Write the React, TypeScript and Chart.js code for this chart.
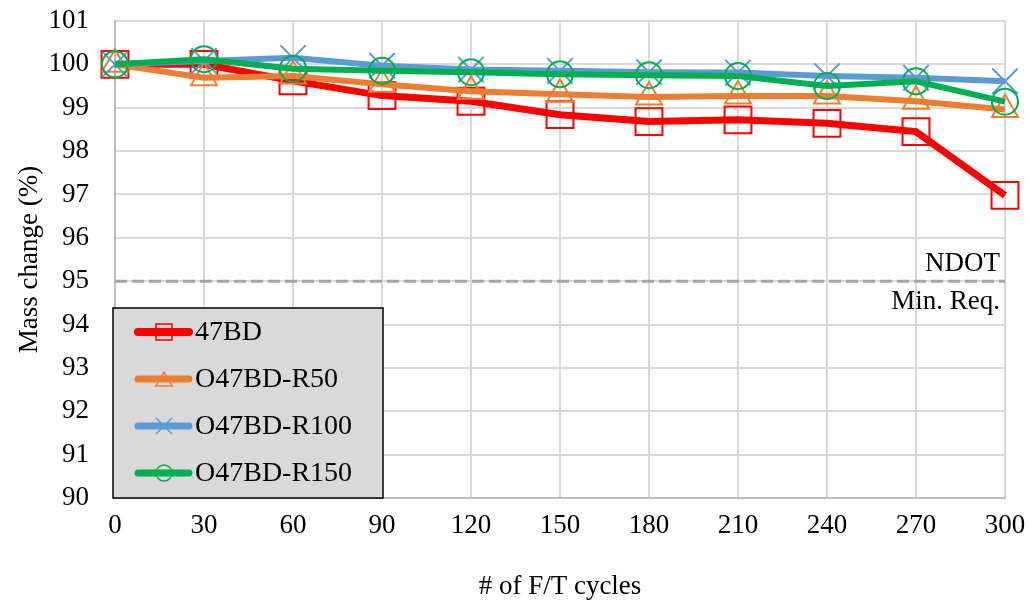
import React, { useEffect, useRef } from "react";
import { Chart, registerables } from "chart.js";

Chart.register(...registerables);

const cycles = ["0", "30", "60", "90", "120", "150", "180", "210", "240", "270", "300"];
const bd47 = [100, 100.0, 99.62, 99.28, 99.15, 98.84, 98.68, 98.72, 98.64, 98.45, 96.98];
const r50 = [100, 99.69, 99.73, 99.54, 99.38, 99.31, 99.25, 99.27, 99.27, 99.15, 98.96];
const r100 = [100, 100.08, 100.15, 99.97, 99.88, 99.85, 99.82, 99.81, 99.73, 99.69, 99.61];
const r150 = [100, 100.12, 99.9, 99.85, 99.82, 99.77, 99.75, 99.73, 99.5, 99.61, 99.14];
const seriesNames = ["47BD", "O47BD-R50", "O47BD-R100", "O47BD-R150"];
const ndotLimit = 95;
const ndotText = ["NDOT", "Min. Req."];

const FONT = "'Liberation Serif', 'Times New Roman', serif";

const colors = ["#FF0000", "#ED7D31", "#5B9BD5", "#00B050"];
const styles = ["rect", "triangle", "crossRot", "circle"];

function drawMarker(ctx: CanvasRenderingContext2D, style: string, x: number, y: number, s: number) {
  ctx.beginPath();
  if (style === "rect") {
    ctx.rect(x - s / 2, y - s / 2, s, s);
  } else if (style === "triangle") {
    const h = s * 0.87;
    ctx.moveTo(x, y - h / 2);
    ctx.lineTo(x + s / 2, y + h / 2);
    ctx.lineTo(x - s / 2, y + h / 2);
    ctx.closePath();
  } else if (style === "crossRot") {
    ctx.moveTo(x - s / 2, y - s / 2);
    ctx.lineTo(x + s / 2, y + s / 2);
    ctx.moveTo(x + s / 2, y - s / 2);
    ctx.lineTo(x - s / 2, y + s / 2);
  } else {
    ctx.arc(x, y, s / 2, 0, Math.PI * 2);
  }
  ctx.stroke();
}

const limitPlugin = {
  id: "limitLine",
  beforeDatasetsDraw(chart: any) {
    const { ctx, chartArea, scales } = chart;
    const y = scales.y.getPixelForValue(ndotLimit);
    ctx.save();
    ctx.strokeStyle = "#A5A5A5";
    ctx.lineWidth = 3;
    ctx.setLineDash([12, 5]);
    ctx.beginPath();
    ctx.moveTo(chartArea.left, y);
    ctx.lineTo(chartArea.right, y);
    ctx.stroke();
    ctx.setLineDash([]);
    ctx.fillStyle = "#000";
    ctx.font = `27px ${FONT}`;
    ctx.textAlign = "right";
    ctx.textBaseline = "middle";
    ctx.fillText(ndotText[0], chartArea.right - 5, y - 17);
    ctx.fillText(ndotText[1], chartArea.right - 5, y + 21);
    ctx.restore();
  },
};

const legendPlugin = {
  id: "boxLegend",
  afterDatasetsDraw(chart: any) {
    const { ctx, chartArea } = chart;
    const left = chartArea.left - 2;
    const bottom = chartArea.bottom;
    const w = 270;
    const h = 190;
    const top = bottom - h;
    ctx.save();
    ctx.fillStyle = "#D9D9D9";
    ctx.fillRect(left, top, w, h);
    ctx.strokeStyle = "#000";
    ctx.lineWidth = 1.5;
    ctx.strokeRect(left, top, w, h);
    ctx.font = `28px ${FONT}`;
    ctx.textBaseline = "middle";
    ctx.textAlign = "left";
    const rowY = [332, 379, 426, 473].map((v) => v - 498 + bottom);
    seriesNames.forEach((name, i) => {
      const y = rowY[i];
      ctx.strokeStyle = colors[i];
      ctx.lineWidth = i === 0 ? 8 : 7;
      ctx.lineCap = "round";
      ctx.beginPath();
      ctx.moveTo(left + 25, y);
      ctx.lineTo(left + 76, y);
      ctx.stroke();
      ctx.lineCap = "butt";
      ctx.lineWidth = 1.5;
      drawMarker(ctx, styles[i], left + 51, y, 16);
      ctx.fillStyle = "#000";
      ctx.fillText(name, left + 82, y + 1);
    });
    ctx.restore();
  },
};

function zeroPad(scale: any) {
  scale.paddingTop = 0;
  scale.paddingBottom = 0;
  scale.paddingLeft = 0;
  scale.paddingRight = 0;
}

export default function App() {
  const ref = useRef<HTMLCanvasElement>(null);
  useEffect(() => {
    document.body.style.margin = "0";
    const dataArrays = [bd47, r50, r100, r150];
    const radii = [19, 15, 18, 13];
    const chart = new Chart(ref.current!, {
      type: "line",
      data: {
        labels: cycles,
        datasets: seriesNames.map((name, i) => ({
          label: name,
          data: dataArrays[i],
          borderColor: colors[i],
          backgroundColor: "rgba(0,0,0,0)",
          borderWidth: i === 0 ? 7 : 6,
          pointStyle: styles[i] as any,
          pointRadius: radii[i],
          pointBorderWidth: 2,
          pointBorderColor: colors[i],
          pointBackgroundColor: "rgba(0,0,0,0)",
          tension: 0,
          clip: false as any,
          order: 3 - i,
        })),
      },
      options: {
        responsive: false,
        animation: false,
        layout: { autoPadding: false, padding: { left: 0, right: 24, top: 21, bottom: 0 } },
        plugins: { legend: { display: false }, tooltip: { enabled: false } },
        scales: {
          x: {
            type: "category",
            offset: false,
            grid: { color: "#D9D9D9", lineWidth: 2, drawTicks: false },
            border: { color: "#BFBFBF", width: 2 },
            ticks: { color: "#000", font: { family: FONT, size: 27 }, padding: 12, maxRotation: 0 },
            title: {
              display: true,
              text: "# of F/T cycles",
              color: "#000",
              font: { family: FONT, size: 27 },
              padding: { top: 0, bottom: 0 },
            },
            afterFit(scale: any) {
              scale.height = 105;
              zeroPad(scale);
            },
          },
          y: {
            min: 90,
            max: 101,
            grid: { color: "#D9D9D9", lineWidth: 2, drawTicks: false },
            border: { color: "#BFBFBF", width: 2 },
            ticks: { stepSize: 1, color: "#000", font: { family: FONT, size: 27 }, padding: 26 },
            title: {
              display: true,
              text: "Mass change (%)",
              color: "#000",
              font: { family: FONT, size: 27 },
              padding: { top: 14, bottom: 0 },
            },
            afterFit(scale: any) {
              scale.width = 115;
              zeroPad(scale);
            },
          },
        },
      },
      plugins: [limitPlugin, legendPlugin],
    });
    return () => chart.destroy();
  }, []);
  return <canvas ref={ref} width={1029} height={603} style={{ display: "block" }} />;
}
